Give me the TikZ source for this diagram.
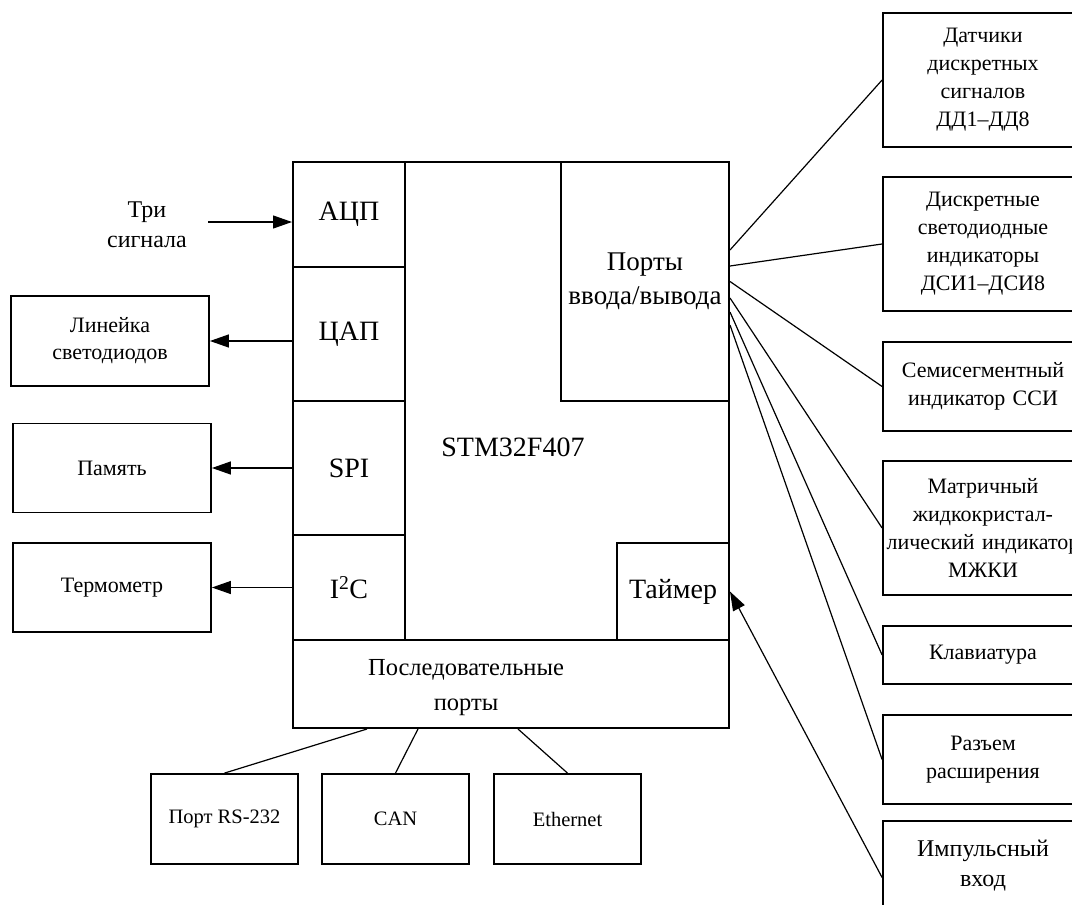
\documentclass[tikz,border=0pt]{standalone}
\usepackage{fontspec}
\setmainfont{Liberation Serif}
\usetikzlibrary{arrows.meta}

\tikzset{
  cell/.style={draw, line width=2pt, inner sep=0pt, font=\fontsize{28}{35}\selectfont, align=center},
  dev/.style={draw, line width=1.8pt, inner sep=3pt, font=\fontsize{22}{27}\selectfont, align=center},
  rdev/.style={dev, text width=194pt, font=\fontsize{22}{28}\selectfont},
  bdev/.style={dev, minimum width=147pt, minimum height=90pt, font=\fontsize{20.5}{27}\selectfont},
  wire/.style={line width=1.2pt},
  arr/.style={wire, -{Triangle[length=19pt,width=13pt]}}
}

\begin{document}
\begin{tikzpicture}[x=1pt,y=-1pt]
\useasboundingbox (0,0) rectangle (1072,905);

% mikrokontroller
\node[cell, minimum width=436pt, minimum height=88pt] (serial) at (511,684) {};
\node[cell, minimum width=324pt, minimum height=478pt] (mcu) at (567,401) {};
\node[cell, minimum width=112pt, minimum height=105pt] (adc) at (349,214.5) {АЦП};
\node[cell, minimum width=112pt, minimum height=134pt] (dac) at (349,334) {ЦАП};
\node[cell, minimum width=112pt, minimum height=134pt] (spi) at (349,468) {SPI};
\node[cell, minimum width=112pt, minimum height=105pt] (i2c) at (349,587.5) {I\textsuperscript{2}C};
\node[cell, minimum width=168pt, minimum height=239pt, font=\fontsize{27}{34}\selectfont] (io) at (645,281.5) {Порты\\ввода/вывода};
\node[cell, minimum width=112pt, minimum height=97pt] (timer) at (673,591.5) {Таймер};
\node[font=\fontsize{28}{35}\selectfont] (chip) at (513,447) {STM32F407};
\node[font=\fontsize{24.5}{35}\selectfont, align=center] (serialtxt) at (466,688) {Последовательные\\порты};

% sleva
\node[font=\fontsize{24}{30}\selectfont, align=center] (sigtxt) at (147,225) {Три\\сигнала};
\coordinate (sig) at (208,222);
\node[dev, minimum width=198pt, minimum height=90pt] (leds) at (110,341) {Линейка\\светодиодов};
\node[dev, minimum width=198pt, minimum height=89pt] (mem) at (112,468) {Память};
\node[dev, minimum width=198pt, minimum height=89pt] (therm) at (112,587.5) {Термометр};

\draw[arr] (sig) -- (adc.west |- sig);
\draw[arr] (leds.east -| dac.west) -- (leds.east);
\draw[arr] (spi.west) -- (mem.east);
\draw[arr] (i2c.west) -- (therm.east);

% snizu
\node[bdev] (rs) at (224.5,819) {Порт RS-232};
\node[bdev] (can) at (395.5,819) {CAN};
\node[bdev] (eth) at (567.5,819) {Ethernet};

\draw[wire] ([xshift=75pt]serial.south west) -- (rs.north);
\draw[wire] ([xshift=126pt]serial.south west) -- (can.north);
\draw[wire] ([xshift=226pt]serial.south west) -- (eth.north);

% sprava
\node[rdev, minimum height=134pt] (dd) at (983,80) {Датчики\\дискретных\\сигналов\\ДД1–ДД8};
\node[rdev, minimum height=134pt] (dsi) at (983,244) {Дискретные\\светодиодные\\индикаторы\\ДСИ1–ДСИ8};
\node[rdev, minimum height=89pt] (ssi) at (983,386.5) {Семисегментный\\индикатор ССИ};
\node[rdev, minimum height=134pt] (lcd) at (983,528) {Матричный\\жидкокристал-\\лический индикатор\\МЖКИ};
\node[rdev, minimum height=58pt] (kbd) at (983,655) {Клавиатура};
\node[rdev, minimum height=89pt] (ext) at (983,759.5) {Разъем\\расширения};
\node[rdev, minimum height=90pt, font=\fontsize{24}{30}\selectfont] (pulse) at (983,866) {Импульсный\\вход};

\draw[wire] ([yshift=31.5pt]io.east) -- (dd.west);
\draw[wire] ([yshift=15.5pt]io.east) -- (dsi.west);
\draw[wire] (io.east) -- (ssi.west);
\draw[wire] ([yshift=-16.5pt]io.east) -- (lcd.west);
\draw[wire] ([yshift=-30.5pt]io.east) -- (kbd.west);
\draw[wire] ([yshift=-43.5pt]io.east) -- (ext.west);
\draw[arr] ([yshift=-11.5pt]pulse.west) -- (timer.east);

\end{tikzpicture}
\end{document}
